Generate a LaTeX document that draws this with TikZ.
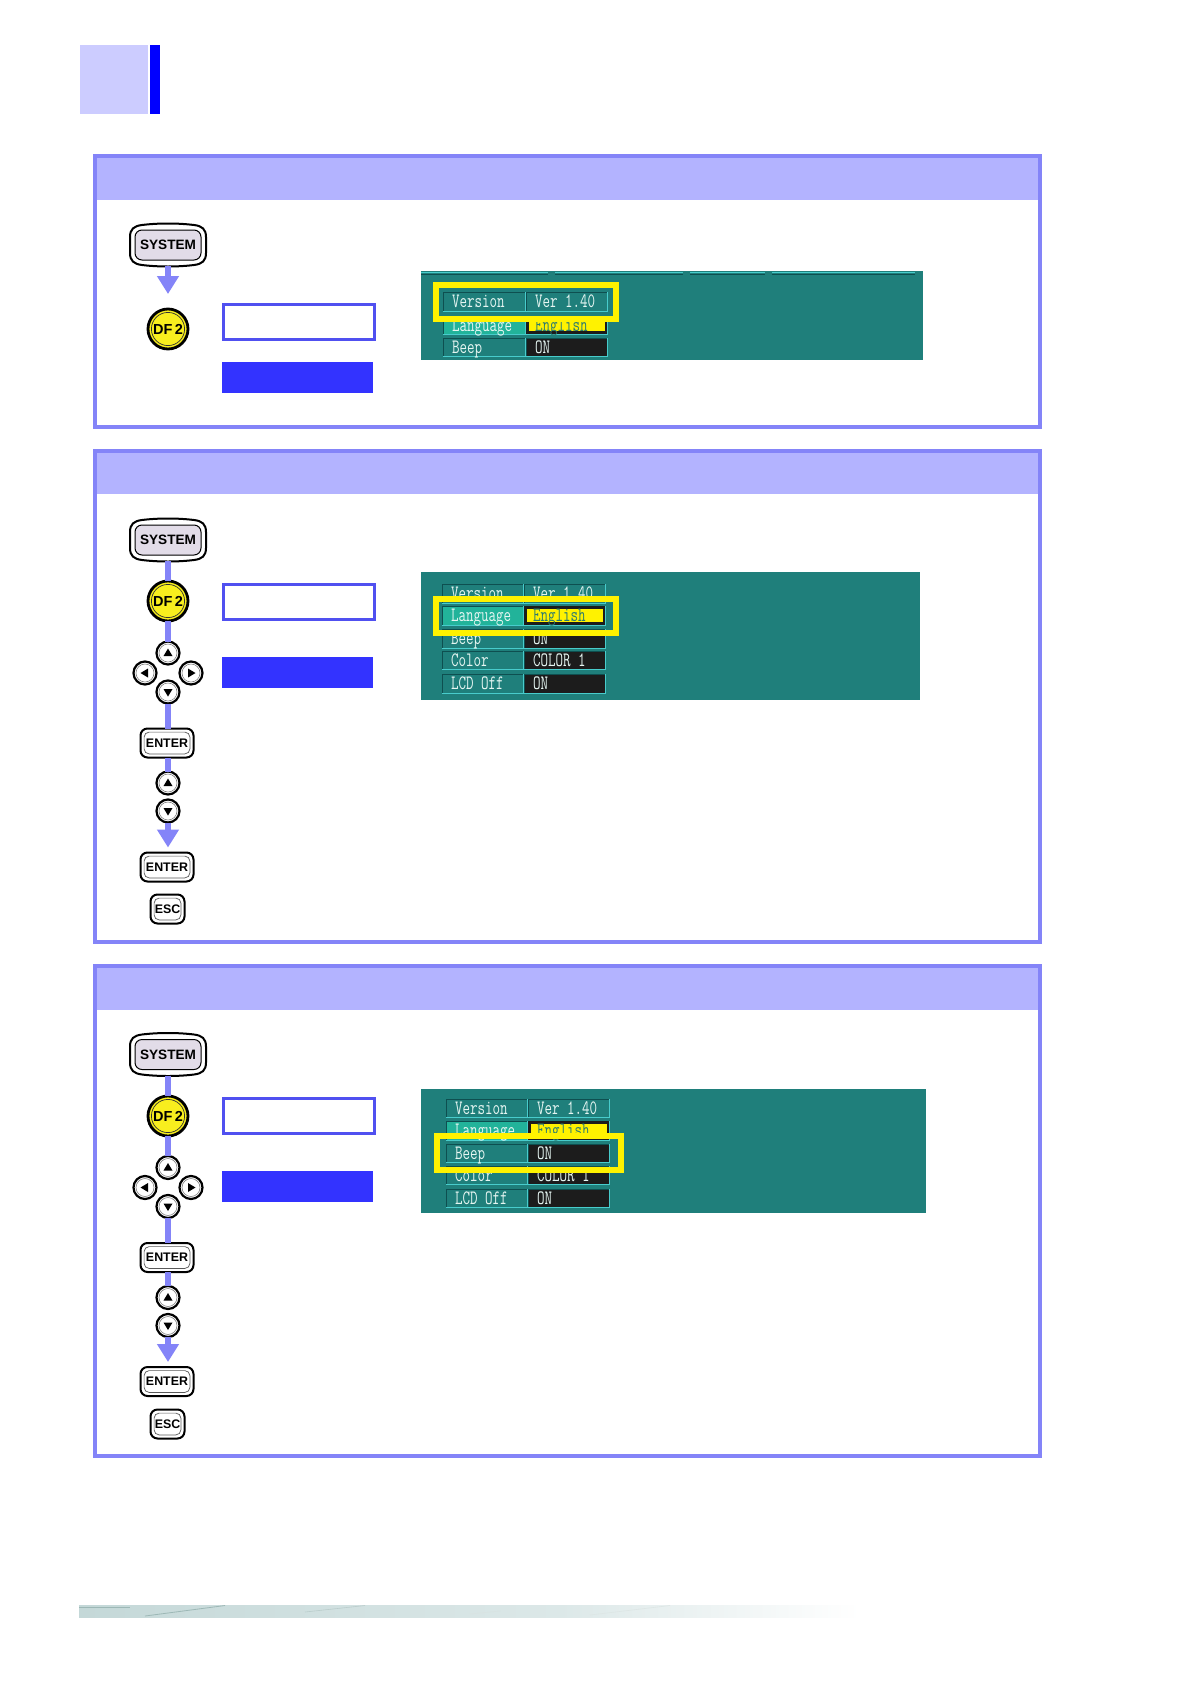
\documentclass[tikz,border=0pt]{standalone}
\usepackage{fontspec}
\usepackage{graphicx}
\usetikzlibrary{arrows.meta,calc}
\setmainfont{Liberation Sans}
\definecolor{frameC}{HTML}{8484F8}
\definecolor{headC}{HTML}{B3B3FF}
\definecolor{markC}{HTML}{CCCCFF}
\definecolor{softC}{HTML}{5050F0}
\definecolor{solidC}{HTML}{3333FF}
\definecolor{tealC}{HTML}{1F7F7B}
\definecolor{keyC}{HTML}{E2DCE8}
\definecolor{dfC}{HTML}{F8EE1E}
\definecolor{cellLt}{HTML}{48CCCC}
\definecolor{cellDk}{HTML}{0E4F50}
\definecolor{selC}{HTML}{22B39A}
\definecolor{darkC}{HTML}{1C1C1C}
\definecolor{txtC}{HTML}{E6F6F2}
\definecolor{engC}{HTML}{2A7A70}
\definecolor{footA}{HTML}{C4D8D8}
\definecolor{footB}{HTML}{DCE8E8}
\definecolor{footS}{HTML}{9DB8B6}
\tikzset{
 softbox/.style={draw=softC,line width=3pt,fill=white,minimum width=151pt,minimum height=35pt,inner sep=0,outer sep=0},
 solidbox/.style={fill=solidC,minimum width=151pt,minimum height=31pt,inner sep=0,outer sep=0},
 conn/.style={draw=frameC,line width=6pt},
 connarrow/.style={conn,-{Triangle[width=21pt,length=18pt]}},
 systext/.style={font=\bfseries\fontsize{13.6}{14}\selectfont,text=black,inner sep=0,outer sep=0,minimum width=77pt,minimum height=42pt},
 dfkey/.style={circle,draw=black,line width=2.8pt,fill=dfC,minimum size=40pt,inner sep=0,outer sep=0,
   font=\bfseries\fontsize{14.5}{15}\selectfont,text=black,
   path picture={\draw[black!80,line width=.7pt] (path picture bounding box.center) circle [radius=16.6pt];}},
 rectkey/.style={draw=black,line width=2pt,fill=white,rounded corners=7pt,inner sep=0,outer sep=0,
   font=\bfseries\fontsize{12.4}{12}\selectfont,
   path picture={\draw[black!65,line width=.7pt,rounded corners=5pt]
     ([xshift=3.6pt,yshift=-3.6pt]path picture bounding box.north west) rectangle
     ([xshift=-3.6pt,yshift=3.6pt]path picture bounding box.south east);}},
 enterkey/.style={rectkey,minimum width=53pt,minimum height=29pt},
 esckey/.style={rectkey,minimum width=34pt,minimum height=29pt},
 roundkey/.style={circle,draw=black,line width=2.2pt,fill=white,minimum size=23pt,inner sep=0,outer sep=0},
 innerring/.style={black!50,line width=.6pt},
 keyup/.style={roundkey,path picture={\begin{scope}[shift={(path picture bounding box.center)}]\draw[innerring] (0,0) circle [radius=9pt];\fill[black] (0,-4.5)--(-4.5,3)--(4.5,3)--cycle;\end{scope}}},
 keydown/.style={roundkey,path picture={\begin{scope}[shift={(path picture bounding box.center)}]\draw[innerring] (0,0) circle [radius=9pt];\fill[black] (0,4.5)--(-4.5,-3)--(4.5,-3)--cycle;\end{scope}}},
 keyleft/.style={roundkey,path picture={\begin{scope}[shift={(path picture bounding box.center)}]\draw[innerring] (0,0) circle [radius=9pt];\fill[black] (-4.5,0)--(3,-4.5)--(3,4.5)--cycle;\end{scope}}},
 keyright/.style={roundkey,path picture={\begin{scope}[shift={(path picture bounding box.center)}]\draw[innerring] (0,0) circle [radius=9pt];\fill[black] (4.5,0)--(-3,-4.5)--(-3,4.5)--cycle;\end{scope}}},
 scrtext/.style={anchor=west,inner sep=0,outer sep=0,text=txtC,font=\fontsize{14.6}{14.6}\selectfont\ttfamily},
 screenbg/.style={fill=tealC},
 hilite/.style={draw=yellow,line width=6pt},
}
\newcommand{\tl}[1]{\raisebox{0pt}[12pt][0pt]{\scalebox{1}[1.4]{#1}}}
\newcommand{\panelbox}[3]{%
 \fill[headC] (95,#1) rectangle (1040,#2);
 \draw[draw=frameC,line width=4pt] (95,#1) rectangle (1040,#3);}
\newcommand{\syskey}[3]{%
 \begin{scope}[shift={(#2,#3)}]
  \draw[black,line width=2pt,fill=white] (-38,-8)..controls (-38,-16) and (-34,-19) .. (-26,-20)
   ..controls (-10,-22) and (10,-22) .. (26,-20)..controls (34,-19) and (38,-16) .. (38,-8)
   --(38,8)..controls (38,16) and (34,19) .. (26,20)..controls (10,22) and (-10,22) .. (-26,20)
   ..controls (-34,19) and (-38,16) .. (-38,8)--cycle;
  \draw[black,line width=1pt,fill=keyC,rounded corners=7pt] (-33,-15) rectangle (33,15);
 \end{scope}
 \node[systext] (#1) at (#2,#3) {\raisebox{-1pt}{SYSTEM}};}
\newcommand{\scell}[8]{%
 \fill[#6] (#2,#3) rectangle (#4,#5);
 \draw[cellDk,line width=1pt] (#2,#5)--(#2,#3)--(#4,#3);
 \draw[cellLt,line width=1pt] (#2,#5)--(#4,#5)--(#4,#3);
 \node[scrtext,text=#8] (#1) at ($(#2,#3)!.5!(#2,#5)+(9,0)$) {\tl{#7}};}
\newcommand{\ycell}[5]{%
 \fill[darkC] (#2,#3) rectangle (#4,#5);
 \fill[yellow] ($(#2,#3)+(3,3)$) rectangle ($(#4,#5)+(-2,-3)$);
 \draw[cellLt,line width=1pt] (#2,#5)--(#4,#5)--(#4,#3);
 \node[scrtext,text=engC] (#1) at ($(#2,#3)!.5!(#2,#5)+(9,0)$) {\tl{English}};}
\begin{document}
\begin{tikzpicture}[x=1pt,y=-1pt]
\useasboundingbox (0,0) rectangle (1190,1684);
\fill[white] (0,0) rectangle (1190,1684);
\fill[markC] (80,45) rectangle (148,114);
\fill[blue] (150,45) rectangle (160,114);

%=== panel 1
\panelbox{156}{200}{427}
\syskey{aSys}{168}{245}
\node[dfkey] (aDf) at (168,329) {DF\hspace{2.5pt}2};
\draw[connarrow,shorten >=15pt] (aSys) -- (aDf);
\node[softbox] (aSoft) at (299,322) {};
\node[solidbox] (aSolid) at (297.5,377) {};
\fill[screenbg] (421,271) rectangle (923,360);
\draw[cellLt,line width=1pt] (421,272)--(548,272) (555,272)--(683,272) (690,272)--(765,272) (772,272)--(915,272);
\draw[cellDk,line width=1pt] (421,274.5)--(548,274.5) (555,274.5)--(683,274.5) (690,274.5)--(765,274.5) (772,274.5)--(915,274.5);
\scell{aV}{443}{292}{525}{311}{tealC}{Version}{txtC}
\scell{aVv}{526}{292}{607}{311}{tealC}{Ver 1.40}{txtC}
\scell{aL}{443}{316}{525}{334}{selC}{Language}{txtC}
\ycell{aLv}{526}{316}{607}{334}
\scell{aB}{443}{338}{525}{356}{tealC}{Beep}{txtC}
\scell{aBv}{526}{338}{607}{356}{darkC}{ON}{txtC}
\draw[hilite] (436,285) rectangle (616,319);

%=== panel 2
\panelbox{451}{494}{942}
\syskey{bSys}{168}{540}
\node[dfkey] (bDf) at (168,601) {DF\hspace{2.5pt}2};
\node[keyup] (bU) at (168,653) {};
\node[keyleft] (bL) at (145,673) {};
\node[keyright] (bR) at (191,673) {};
\node[keydown] (bD) at (168,692) {};
\node[enterkey] (bE) at (167,743) {ENTER};
\node[keyup] (bU2) at (168,783) {};
\node[keydown] (bD2) at (168,811) {};
\node[enterkey] (bE2) at (167,867) {ENTER};
\node[esckey] (bEsc) at (167.5,909) {ESC};
\draw[conn] (bSys) -- (bDf);
\draw[conn] (bDf) -- (bU);
\draw[conn] (bD.south) -- (bD.south |- bE.north);
\draw[conn] (bU2.north |- bE.south) -- (bU2.north);
\draw[connarrow,shorten >=5pt] (bD2.south) -- (bD2.south |- bE2.north);
\node[softbox] (bSoft) at (299,601.5) {};
\node[solidbox] (bSolid) at (297.5,672.5) {};
\fill[screenbg] (421,572) rectangle (920,700);
\scell{bV}{442}{584}{523}{603}{tealC}{Version}{txtC}
\scell{bVv}{524}{584}{605}{603}{tealC}{Ver 1.40}{txtC}
\scell{bLa}{442}{606}{523}{625}{selC}{Language}{txtC}
\ycell{bLv}{524}{606}{605}{625}
\scell{bB}{442}{629}{523}{648}{tealC}{Beep}{txtC}
\scell{bBv}{524}{629}{605}{648}{darkC}{ON}{txtC}
\scell{bC}{442}{651}{523}{669}{tealC}{Color}{txtC}
\scell{bCv}{524}{651}{605}{669}{darkC}{COLOR 1}{txtC}
\scell{bO}{442}{674}{523}{693}{tealC}{LCD Off}{txtC}
\scell{bOv}{524}{674}{605}{693}{darkC}{ON}{txtC}
\draw[hilite] (436,599) rectangle (616,633);

%=== panel 3
\panelbox{966}{1010}{1456}
\syskey{cSys}{168}{1054.5}
\node[dfkey] (cDf) at (168,1116) {DF\hspace{2.5pt}2};
\node[keyup] (cU) at (168,1167.5) {};
\node[keyleft] (cL) at (145,1187.5) {};
\node[keyright] (cR) at (191,1187.5) {};
\node[keydown] (cD) at (168,1206.5) {};
\node[enterkey] (cE) at (167,1257.5) {ENTER};
\node[keyup] (cU2) at (168,1297.5) {};
\node[keydown] (cD2) at (168,1325.5) {};
\node[enterkey] (cE2) at (167,1381.5) {ENTER};
\node[esckey] (cEsc) at (167.5,1424) {ESC};
\draw[conn] (cSys) -- (cDf);
\draw[conn] (cDf) -- (cU);
\draw[conn] (cD.south) -- (cD.south |- cE.north);
\draw[conn] (cU2.north |- cE.south) -- (cU2.north);
\draw[connarrow,shorten >=5pt] (cD2.south) -- (cD2.south |- cE2.north);
\node[softbox] (cSoft) at (299,1116) {};
\node[solidbox] (cSolid) at (297.5,1186.5) {};
\fill[screenbg] (421,1089) rectangle (926,1213);
\scell{cV}{446}{1099}{527}{1117}{tealC}{Version}{txtC}
\scell{cVv}{528}{1099}{609}{1117}{tealC}{Ver 1.40}{txtC}
\scell{cLa}{446}{1121}{527}{1140}{selC}{Language}{txtC}
\ycell{cLv}{528}{1121}{609}{1140}
\scell{cB}{446}{1144}{527}{1162}{tealC}{Beep}{txtC}
\scell{cBv}{528}{1144}{609}{1162}{darkC}{ON}{txtC}
\scell{cC}{446}{1166}{527}{1184}{tealC}{Color}{txtC}
\scell{cCv}{528}{1166}{609}{1184}{darkC}{COLOR 1}{txtC}
\scell{cO}{446}{1189}{527}{1207}{tealC}{LCD Off}{txtC}
\scell{cOv}{528}{1189}{609}{1207}{darkC}{ON}{txtC}
\draw[hilite] (437,1136) rectangle (621,1170);

%=== footer strip
\shade[left color=footA,right color=footB] (79,1605) rectangle (560,1617.5);
\shade[left color=footB,right color=white] (560,1605) rectangle (860,1617.5);
\draw[footS,line width=.8pt] (145,1616)--(225,1605.5);
\draw[footS,line width=.6pt] (79,1607)--(130,1607);
\draw[footS!70!white,line width=.6pt] (305,1612)--(365,1605.5);
\draw[footS!40!white,line width=.6pt] (470,1614)--(500,1611);
\draw[footS!35!white,line width=.6pt] (590,1615)--(670,1605.5);
\end{tikzpicture}
\end{document}
